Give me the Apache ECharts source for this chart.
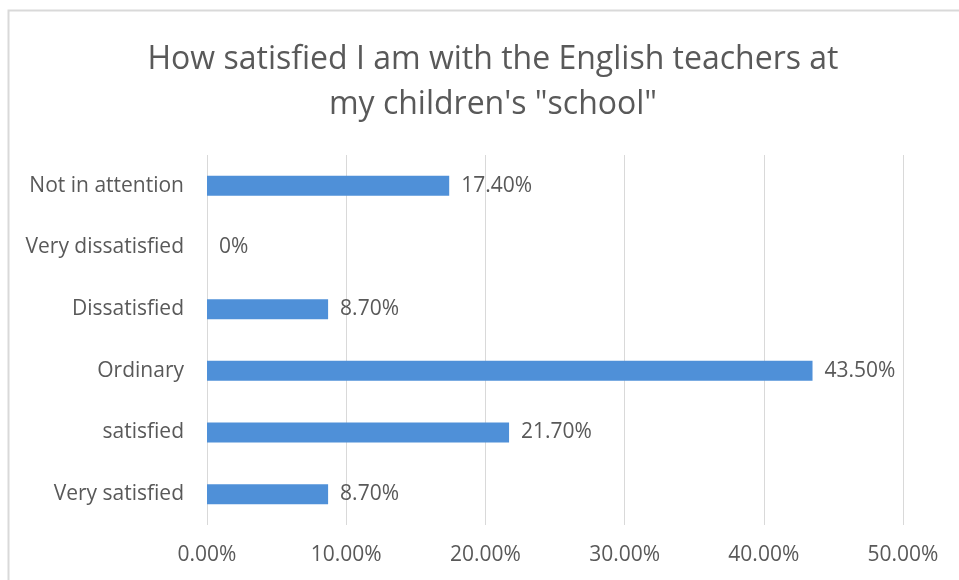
<!DOCTYPE html>
<html>
<head>
<meta charset="utf-8">
<style>
  html, body { margin: 0; padding: 0; background: #ffffff; }
  #chart { width: 959px; height: 580px; }
</style>
<script src="https://cdn.jsdelivr.net/npm/echarts@6/dist/echarts.min.js"></script>
</head>
<body>
<div id="chart"></div>
<script>
// Survey answers, listed bottom to top as the category axis draws them
const categories = ['Very satisfied', 'satisfied', 'Ordinary', 'Dissatisfied', 'Very dissatisfied', 'Not in attention'];
const shares = [8.7, 21.7, 43.5, 8.7, 0, 17.4];
const tickValues = [0, 10, 20, 30, 40, 50];

const FONT = '"Open Sans", Lato, sans-serif';
const TEXT = '#595959';

const chart = echarts.init(document.getElementById('chart'), null, { renderer: 'canvas' });

chart.setOption({
  backgroundColor: '#ffffff',
  animation: false,
  title: {
    text: 'How satisfied I am with the English teachers at\nmy children\'s "school"',
    left: 488,
    top: 32,
    textAlign: 'center',
    textStyle: {
      fontFamily: FONT,
      fontSize: 32,
      fontWeight: 'normal',
      color: TEXT,
      lineHeight: 45,
      align: 'center'
    }
  },
  graphic: [{
    type: 'rect',
    shape: { x: 8.5, y: 10.5, width: 960, height: 580 },
    style: { fill: 'none', stroke: '#d9d9d9', lineWidth: 2 },
    silent: true
  }],
  grid: { left: 207, right: 56, top: 155, bottom: 55 },
  xAxis: {
    type: 'value',
    min: tickValues[0],
    max: tickValues[tickValues.length - 1],
    interval: tickValues[1] - tickValues[0],
    axisLine: { show: false },
    axisTick: { show: false },
    splitLine: { show: true, lineStyle: { color: '#d9d9d9', width: 1 } },
    axisLabel: {
      margin: 20,
      fontFamily: FONT,
      fontSize: 21,
      color: TEXT,
      formatter: v => v.toFixed(2) + '%'
    }
  },
  yAxis: {
    type: 'category',
    data: categories,
    axisLine: { show: false },
    axisTick: { show: false },
    axisLabel: {
      margin: 23,
      fontFamily: FONT,
      fontSize: 21,
      color: TEXT
    }
  },
  series: [{
    type: 'bar',
    data: shares,
    barWidth: 20,
    itemStyle: { color: '#4f90d8' },
    label: {
      show: true,
      position: 'right',
      distance: 12,
      fontFamily: FONT,
      fontSize: 21,
      color: TEXT,
      formatter: p => p.value === 0 ? '0%' : p.value.toFixed(2) + '%'
    }
  }]
});
</script>
</body>
</html>
